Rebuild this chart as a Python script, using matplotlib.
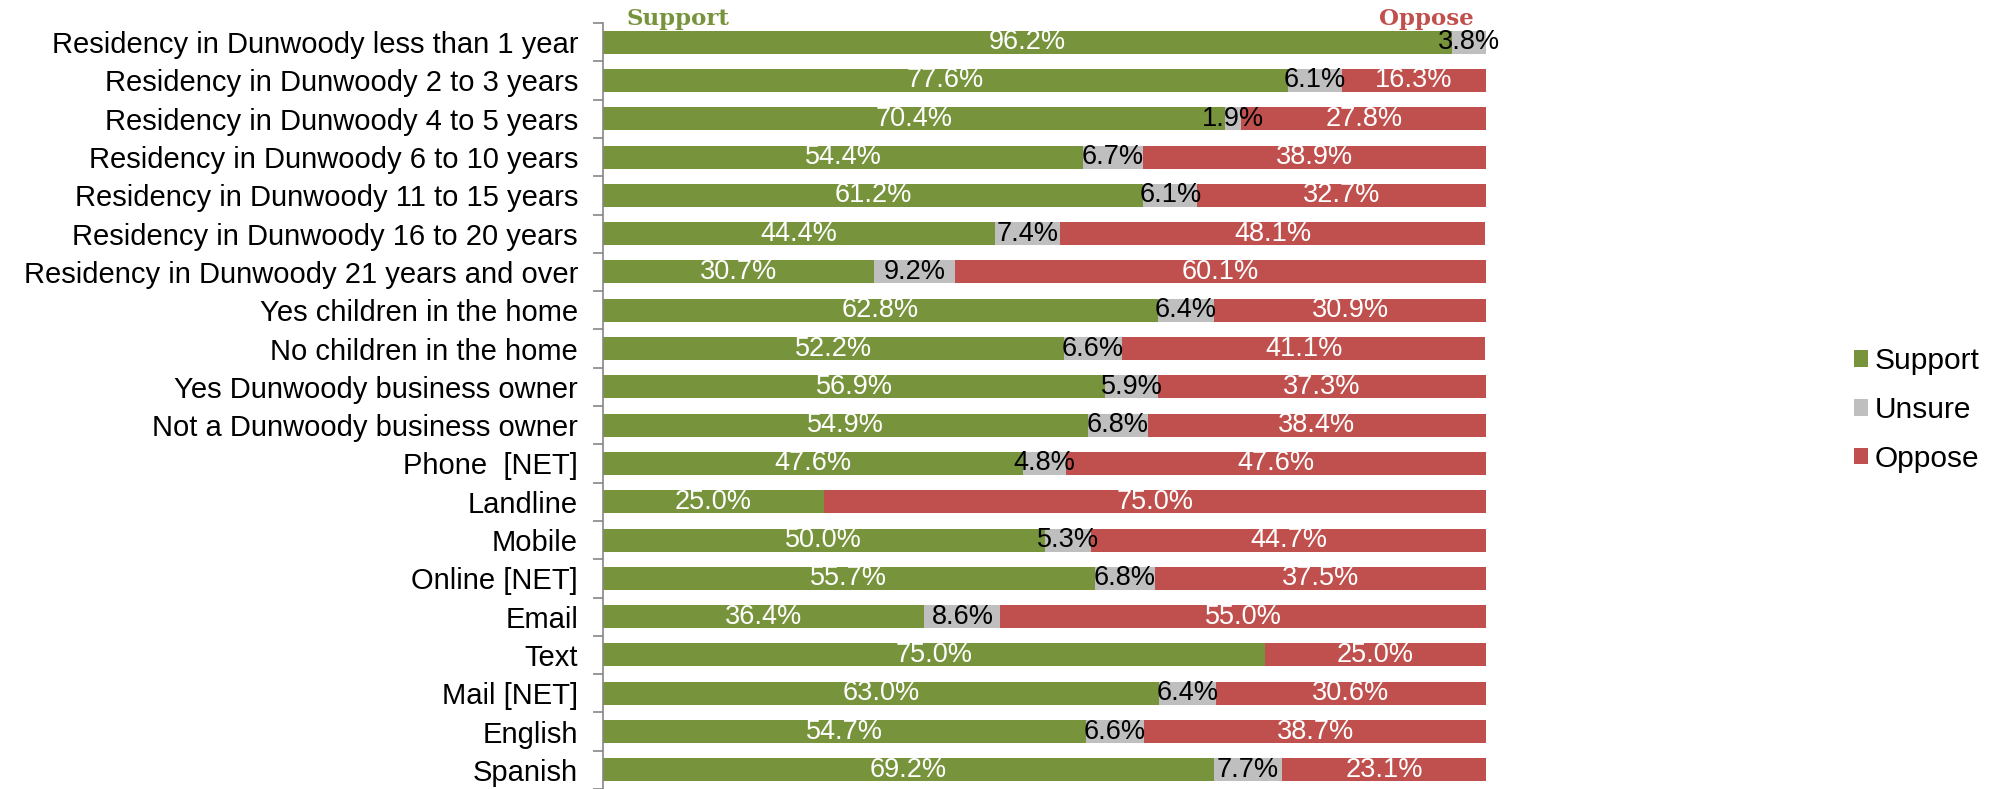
import matplotlib.pyplot as plt
import numpy as np
from matplotlib.ticker import FixedLocator

plt.rcParams["font.family"] = ["Liberation Sans", "DejaVu Sans"]

categories = [
    "Residency in Dunwoody less than 1 year",
    "Residency in Dunwoody 2 to 3 years",
    "Residency in Dunwoody 4 to 5 years",
    "Residency in Dunwoody 6 to 10 years",
    "Residency in Dunwoody 11 to 15 years",
    "Residency in Dunwoody 16 to 20 years",
    "Residency in Dunwoody 21 years and over",
    "Yes children in the home",
    "No children in the home",
    "Yes Dunwoody business owner",
    "Not a Dunwoody business owner",
    "Phone  [NET]",
    "Landline",
    "Mobile",
    "Online [NET]",
    "Email",
    "Text",
    "Mail [NET]",
    "English",
    "Spanish",
]
support = [96.2, 77.6, 70.4, 54.4, 61.2, 44.4, 30.7, 62.8, 52.2, 56.9,
           54.9, 47.6, 25.0, 50.0, 55.7, 36.4, 75.0, 63.0, 54.7, 69.2]
unsure = [3.8, 6.1, 1.9, 6.7, 6.1, 7.4, 9.2, 6.4, 6.6, 5.9,
          6.8, 4.8, 0.0, 5.3, 6.8, 8.6, 0.0, 6.4, 6.6, 7.7]
oppose = [0.0, 16.3, 27.8, 38.9, 32.7, 48.1, 60.1, 30.9, 41.1, 37.3,
          38.4, 47.6, 75.0, 44.7, 37.5, 55.0, 25.0, 30.6, 38.7, 23.1]

series = [
    ("Support", support, "#77933C", "white"),
    ("Unsure", unsure, "#BFBFBF", "black"),
    ("Oppose", oppose, "#C0504D", "white"),
]

fig = plt.figure(figsize=(19.9, 7.89), dpi=100)
ax = fig.add_axes([603 / 1990, 0.0, (1486 - 603) / 1990, 1 - 23 / 789])

y = np.arange(len(categories))
left = np.zeros(len(categories))
for name, vals, color, tcolor in series:
    vals = np.array(vals)
    bars = ax.barh(y, vals, left=left, height=0.6, color=color, label=name)
    labels = [f"{v:.1f}%" if v > 0 else "" for v in vals]
    ax.bar_label(bars, labels=labels, label_type="center", color=tcolor, fontsize=19.5)
    left += vals

ax.set_xlim(0, 100)
ax.set_ylim(len(categories) - 0.5, -0.5)
ax.set_yticks(y)
ax.set_yticklabels(categories, fontsize=21)
ax.yaxis.set_minor_locator(FixedLocator(np.arange(-0.5, len(categories), 1.0)))
ax.tick_params(axis="y", which="major", length=0, pad=18)
ax.tick_params(axis="y", which="minor", length=7, color="#868686", width=1.2)
ax.set_xticks([])

for s in ["top", "right", "bottom"]:
    ax.spines[s].set_visible(False)
ax.spines["left"].set_color("#868686")
ax.spines["left"].set_linewidth(1.2)

fig.text(627 / 1990, 1 - 19 / 789, "Support", color="#77933C", fontsize=16.5,
         fontweight="bold", family="DejaVu Serif", va="center", ha="left")
fig.text(1474 / 1990, 1 - 19 / 789, "Oppose", color="#C0504D", fontsize=16.5,
         fontweight="bold", family="DejaVu Serif", va="center", ha="right")

fig.legend(loc="center left", bbox_to_anchor=(1827 / 1990, 1 - 410 / 789),
           frameon=False, fontsize=21.5, handlelength=0.47, handleheight=0.47,
           handletextpad=0.23, labelspacing=0.7)

fig.savefig("out.png", dpi=100)
